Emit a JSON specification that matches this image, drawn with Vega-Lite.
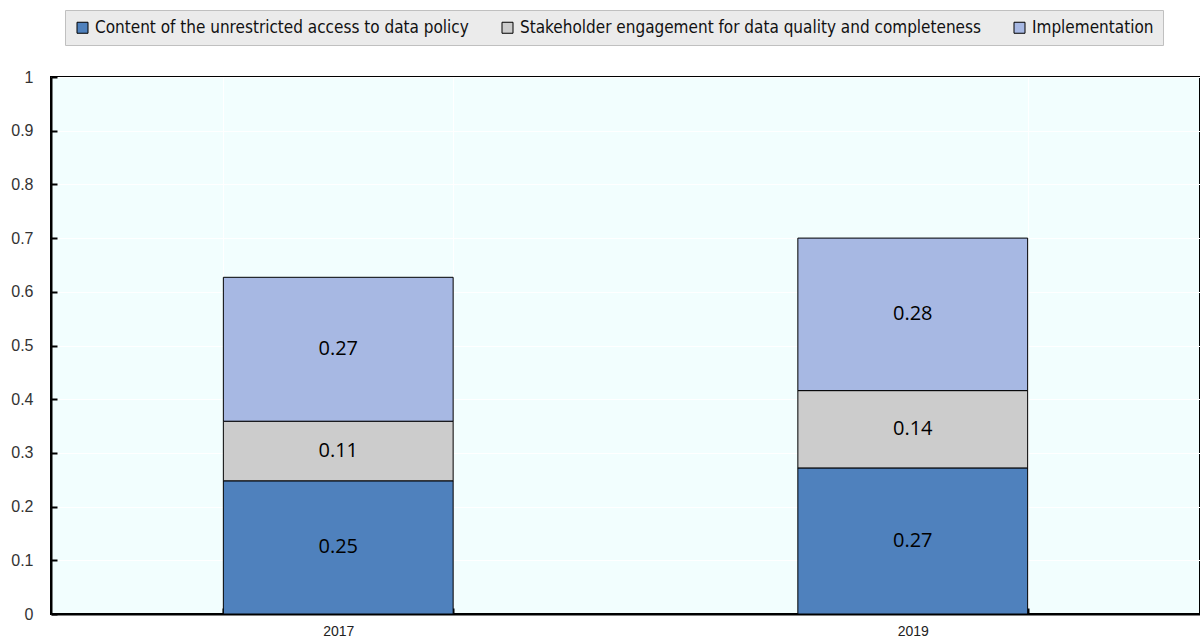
{
  "$schema": "https://vega.github.io/schema/vega-lite/v6.json",
  "width": 1149,
  "height": 537,
  "autosize": {"type": "none"},
  "padding": {"left": 51, "top": 77, "right": 0, "bottom": 25},
  "background": "white",
  "config": {
    "view": {"fill": "#f2fefe", "stroke": "black", "strokeWidth": 2},
    "font": "Liberation Sans"
  },
  "data": {
    "values": [
      {"year": "2017", "component": "Content of the unrestricted access to data policy", "order": 1, "value": 0.248},
      {"year": "2017", "component": "Stakeholder engagement for data quality and completeness", "order": 2, "value": 0.111},
      {"year": "2017", "component": "Implementation", "order": 3, "value": 0.268},
      {"year": "2019", "component": "Content of the unrestricted access to data policy", "order": 1, "value": 0.272},
      {"year": "2019", "component": "Stakeholder engagement for data quality and completeness", "order": 2, "value": 0.144},
      {"year": "2019", "component": "Implementation", "order": 3, "value": 0.284}
    ]
  },
  "transform": [
    {"stack": "value", "groupby": ["year"], "sort": [{"field": "order", "order": "ascending"}], "as": ["v0", "v1"]},
    {"calculate": "(datum.v0 + datum.v1) / 2", "as": "mid"}
  ],
  "encoding": {
    "x": {
      "field": "year",
      "type": "nominal",
      "scale": {"paddingInner": 0.6, "paddingOuter": 0.3},
      "axis": {
        "title": null,
        "labelAngle": 0,
        "tickBand": "extent",
        "domainColor": "black",
        "domainWidth": 2,
        "tickColor": "black",
        "tickWidth": 2,
        "tickSize": -6,
        "grid": true,
        "gridColor": "white",
        "gridWidth": 1,
        "labelFont": "Liberation Sans",
        "labelFontSize": 14,
        "labelColor": "#222222",
        "labelPadding": 16
      }
    }
  },
  "layer": [
    {
      "mark": {"type": "bar", "stroke": "black", "strokeWidth": 1},
      "encoding": {
        "y": {
          "field": "v0",
          "type": "quantitative",
          "scale": {"domain": [0, 1], "nice": false},
          "axis": {
            "title": null,
            "values": [0, 0.1, 0.2, 0.3, 0.4, 0.5, 0.6, 0.7, 0.8, 0.9, 1],
            "format": "~g",
            "domainColor": "black",
            "domainWidth": 2,
            "tickColor": "black",
            "tickWidth": 2,
            "tickSize": -6,
            "grid": true,
            "gridColor": "white",
            "gridWidth": 1,
            "labelFont": "Liberation Sans",
            "labelFontSize": 16,
            "labelColor": "#333333",
            "labelPadding": 24
          }
        },
        "y2": {"field": "v1"},
        "color": {
          "field": "component",
          "type": "nominal",
          "scale": {
            "domain": ["Content of the unrestricted access to data policy", "Stakeholder engagement for data quality and completeness", "Implementation"],
            "range": ["#4f81bd", "#cccccc", "#a7b8e3"]
          },
          "legend": {
            "title": null,
            "orient": "none",
            "direction": "horizontal",
            "legendX": 14,
            "legendY": -67,
            "columnPadding": 30,
            "padding": 9,
            "fillColor": "#ebebeb",
            "strokeColor": "#c0c0c0",
            "symbolType": "square",
            "symbolSize": 121,
            "symbolStrokeColor": "black",
            "symbolStrokeWidth": 1,
            "symbolOpacity": 1,
            "labelOffset": 4,
            "labelFont": "DejaVu Sans Condensed, sans-serif",
            "labelFontSize": 17,
            "labelColor": "#111111",
            "labelLimit": 600
          }
        },
        "order": {"field": "order"}
      }
    },
    {
      "mark": {"type": "text", "font": "Open Sans", "fontSize": 20, "color": "black", "baseline": "middle"},
      "encoding": {
        "y": {"field": "mid", "type": "quantitative", "scale": {"domain": [0, 1], "nice": false}},
        "text": {"field": "value", "type": "quantitative", "format": ".2f"}
      }
    }
  ]
}
